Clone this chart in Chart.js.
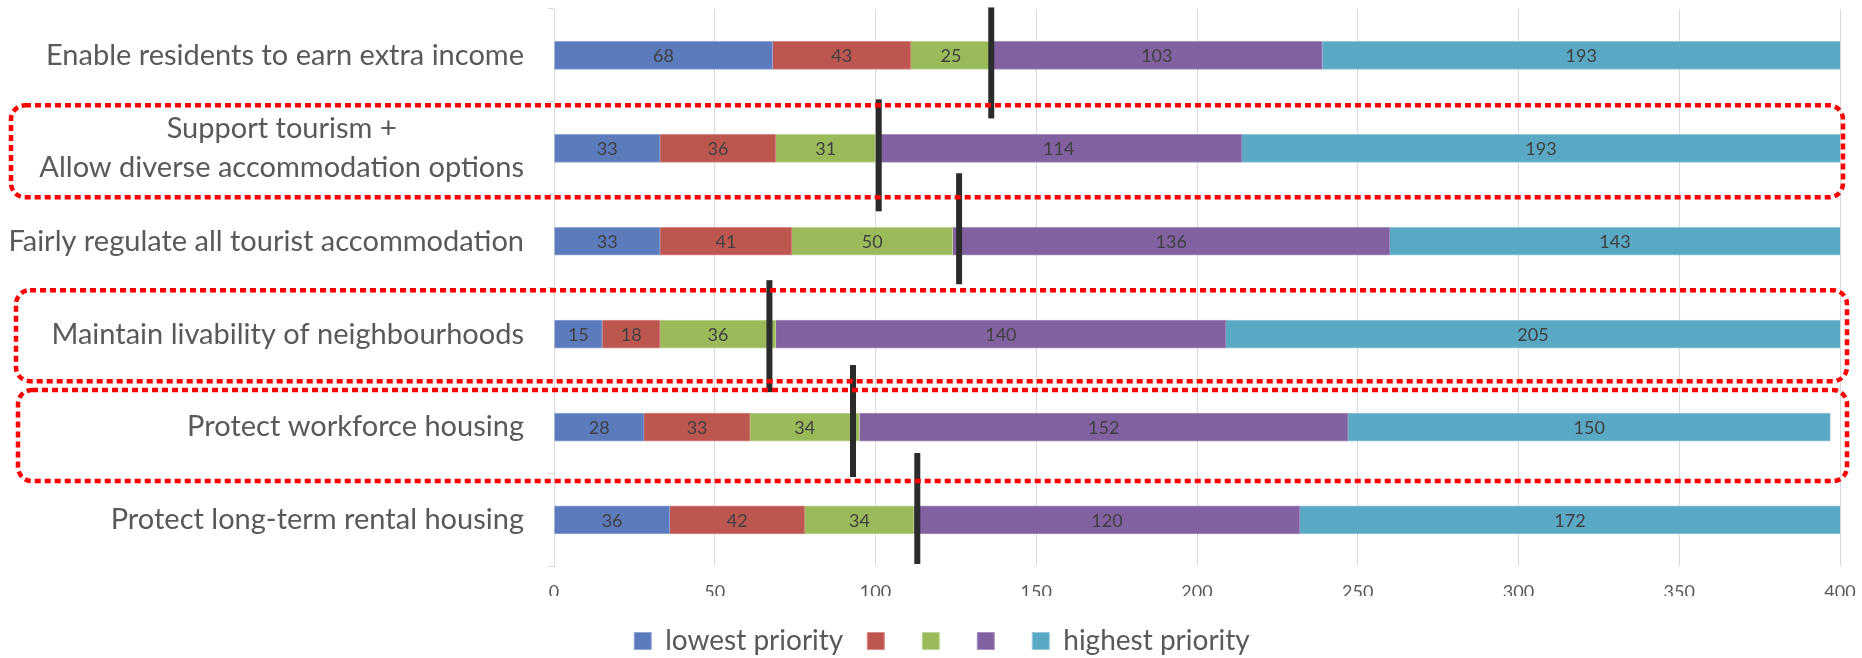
<!DOCTYPE html>
<html>
<head>
<meta charset="utf-8">
<script src="https://cdn.jsdelivr.net/npm/chart.js@4.4.1/dist/chart.umd.min.js"></script>
<style>
  html, body { margin: 0; padding: 0; background: #fff; }
  #chart { display: block; }
</style>
</head>
<body>
<canvas id="chart" width="1862" height="658"></canvas>
<script>
// categories, top to bottom
const categories = [
  "Enable residents to earn extra income",
  ["Support tourism +", "Allow diverse accommodation options"],
  "Fairly regulate all tourist accommodation",
  "Maintain livability of neighbourhoods",
  "Protect workforce housing",
  "Protect long-term rental housing"
];
const seriesNames = ["lowest priority", "", "", "", "highest priority"];
const priority1 = [68, 33, 33, 15, 28, 36];
const priority2 = [43, 36, 41, 18, 33, 42];
const priority3 = [25, 31, 50, 36, 34, 34];
const priority4 = [103, 114, 136, 140, 152, 120];
const priority5 = [193, 193, 143, 205, 150, 172];
// black marker line per row
const markerValues = [136, 101, 126, 67, 93, 113];
const xTicks = [0, 50, 100, 150, 200, 250, 300, 350, 400];
// rows circled in red
const highlightedRows = [1, 3, 4];

const colors = ["#5b7bbd", "#be5650", "#9bbb5b", "#8161a0", "#59a9c5"];
const edges = ["#8fa6d6", "#d98a86", "#bfd597", "#a58fc0", "#93c8dc"];
const FONT = "Lato, 'Open Sans', sans-serif";

const seriesData = [priority1, priority2, priority3, priority4, priority5];

// value labels inside each segment
const segmentLabels = {
  id: "segmentLabels",
  afterDatasetsDraw(chart) {
    const { ctx, chartArea } = chart;
    ctx.save();
    ctx.font = "18px " + FONT;
    ctx.fillStyle = "#404040";
    ctx.textAlign = "center";
    ctx.textBaseline = "middle";
    chart.data.datasets.forEach((ds, i) => {
      chart.getDatasetMeta(i).data.forEach((bar, j) => {
        const l = Math.max(Math.min(bar.x, bar.base), chartArea.left);
        const r = Math.min(Math.max(bar.x, bar.base), chartArea.right);
        if (r - l < 10) return;
        ctx.fillText(String(ds.data[j]), (l + r) / 2, bar.y + 1);
      });
    });
    ctx.restore();
  }
};

// category labels, right aligned block, lines centred inside it
const rowLabels = {
  id: "rowLabels",
  afterDraw(chart) {
    const { ctx } = chart;
    const y = chart.scales.y;
    ctx.save();
    ctx.font = "29px " + FONT;
    ctx.fillStyle = "#595959";
    ctx.textBaseline = "middle";
    ctx.textAlign = "center";
    const rightEdge = y.right - 30;
    categories.forEach((lab, i) => {
      const lines = Array.isArray(lab) ? lab : [lab];
      const w = Math.max(...lines.map(t => ctx.measureText(t).width));
      const cy = y.getPixelForValue(i);
      const lh = 39;
      lines.forEach((t, k) => {
        ctx.fillText(t, rightEdge - w / 2, cy + (k - (lines.length - 1) / 2) * lh);
      });
    });
    ctx.restore();
  }
};

// black vertical markers + red dotted boxes
const annotations = {
  id: "annotations",
  afterLayout(chart) {
    chart.legend.top += 7;
    chart.legend.bottom += 7;
    chart.legend.left += 22;
    chart.legend.right += 22;
  },
  afterDraw(chart) {
    const { ctx } = chart;
    const x = chart.scales.x, y = chart.scales.y;
    const ext = [[-48, 63], [-49, 63], [-68, 43], [-54, 58], [-62, 50], [-67, 44]];
    ctx.save();
    ctx.strokeStyle = "#2b2b2b";
    ctx.lineWidth = 6;
    markerValues.forEach((v, i) => {
      const px = x.getPixelForValue(v);
      const cy = y.getPixelForValue(i);
      ctx.beginPath();
      ctx.moveTo(px, cy + ext[i][0]);
      ctx.lineTo(px, cy + ext[i][1]);
      ctx.stroke();
    });

    const boxes = [
      { top: -43, bottom: 49, left: 11, right: 3 },
      { top: -44, bottom: 47, left: 16, right: 7 },
      { top: -37, bottom: 54, left: 18, right: 7 }
    ];
    ctx.strokeStyle = "#ff0000";
    ctx.lineWidth = 4.5;
    ctx.setLineDash([6, 4]);
    highlightedRows.forEach((row, k) => {
      const b = boxes[k];
      const cy = y.getPixelForValue(row);
      const x0 = b.left, x1 = x.right + b.right;
      ctx.beginPath();
      ctx.roundRect(x0, cy + b.top, x1 - x0, b.bottom - b.top, 14);
      ctx.stroke();
    });
    ctx.restore();
  }
};

new Chart(document.getElementById("chart"), {
  type: "bar",
  data: {
    labels: categories,
    datasets: seriesData.map((d, i) => ({
      label: seriesNames[i],
      data: d,
      backgroundColor: colors[i],
      borderColor: edges[i],
      borderWidth: 1,
      barThickness: 28
    }))
  },
  options: {
    indexAxis: "y",
    responsive: false,
    animation: false,
    devicePixelRatio: 1,
    layout: { padding: { top: 9, right: 22, left: 0, bottom: 0 } },
    plugins: {
      tooltip: { enabled: false },
      legend: {
        position: "bottom",
        labels: {
          color: "#595959",
          font: { family: FONT, size: 28 },
          boxWidth: 17,
          boxHeight: 17,
          padding: 24
        }
      }
    },
    scales: {
      x: {
        stacked: true,
        min: 0,
        max: 400,
        afterBuildTicks: s => { s.ticks = xTicks.map(v => ({ value: v })); },
        grid: { color: "#d9d9d9", drawTicks: false },
        border: { display: false },
        ticks: { color: "#595959", font: { family: FONT, size: 18 }, padding: 15 },
        afterFit: s => { s.height -= 22; s.paddingLeft = 0; s.paddingRight = 0; }
      },
      y: {
        stacked: true,
        grid: { offset: true, drawOnChartArea: false, tickLength: 6, color: "#d9d9d9" },
        border: { color: "#d9d9d9" },
        ticks: { display: false },
        afterFit: s => { s.width = 554; }
      }
    }
  },
  plugins: [segmentLabels, rowLabels, annotations]
});
</script>
</body>
</html>
